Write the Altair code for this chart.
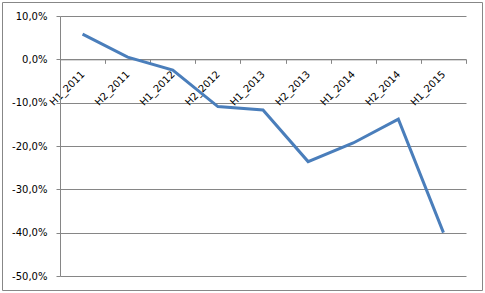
import altair as alt
import pandas as pd

periods = ["H1_2011", "H2_2011", "H1_2012", "H2_2012", "H1_2013",
           "H2_2013", "H1_2014", "H2_2014", "H1_2015"]
values = [0.058, 0.005, -0.025, -0.109, -0.117, -0.236, -0.193, -0.138, -0.400]
y_ticks = [0.1, 0.0, -0.1, -0.2, -0.3, -0.4, -0.5]
y_domain = [-0.5, 0.1]

W, H = 406, 260
GREY = "#868686"
FONT = "DejaVu Sans"

df = pd.DataFrame({"period": periods, "value": values})

label_expr = "replace(replace(format(datum.value, '.1%'), '.', ','), '\u2212', '-')"

# offset that moves the category axis up onto the 0% line
zero_offset = -(H * (0 - y_domain[0]) / (y_domain[1] - y_domain[0]))

line = alt.Chart(df).mark_line(color="#4A7EBB", strokeWidth=3).encode(
    x=alt.X(
        "period:N",
        sort=periods,
        bandPosition=0.5,
        scale=alt.Scale(type="band", paddingInner=0, paddingOuter=0),
        axis=alt.Axis(
            title=None,
            orient="bottom",
            offset=zero_offset,
            tickBand="extent",
            labelAngle=-45,
            labelAlign="right",
            labelBaseline="middle",
            labelFont=FONT,
            labelFontSize=10,
            labelColor="#000000",
            labelPadding=9,
            tickSize=4,
            tickColor=GREY,
            domainColor=GREY,
            grid=False,
        ),
    ),
    y=alt.Y(
        "value:Q",
        scale=alt.Scale(domain=y_domain, nice=False, zero=False),
        axis=alt.Axis(
            title=None,
            values=y_ticks,
            labelExpr=label_expr,
            labelFont=FONT,
            labelFontSize=10,
            labelColor="#000000",
            labelPadding=9,
            tickSize=4,
            tickColor=GREY,
            domainColor=GREY,
            grid=True,
            gridColor=GREY,
        ),
    ),
)

border = alt.Chart(pd.DataFrame({"b": [0]})).mark_rect(
    fill="transparent", stroke="#878787", strokeWidth=1
).encode(
    x=alt.value(-57.5),
    x2=alt.value(422.5),
    y=alt.value(-13.5),
    y2=alt.value(274.5),
)

chart = alt.layer(border, line).properties(
    width=W,
    height=H,
    padding={"left": 2, "top": 2, "right": 2, "bottom": 2},
    background="white",
).configure_view(stroke=None)

chart.save("out.html", embed_options={"renderer": "svg", "actions": False})
